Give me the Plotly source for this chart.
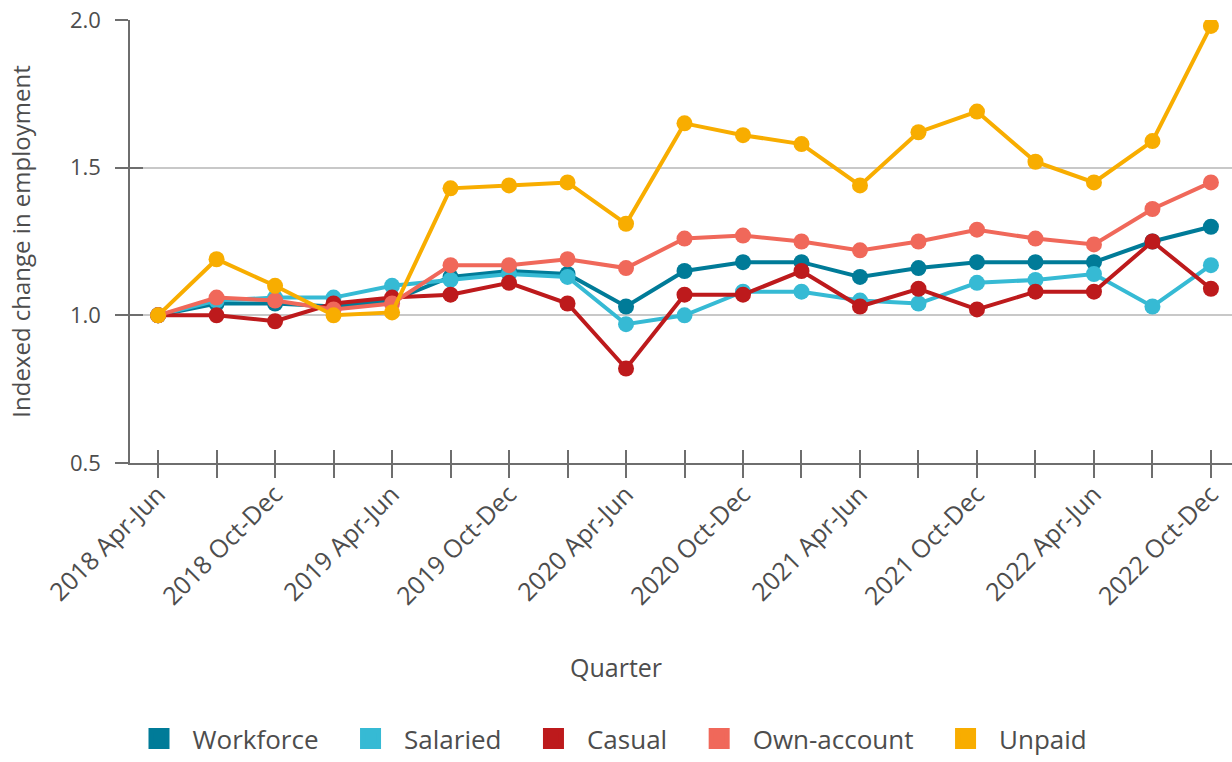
import plotly.graph_objects as go

quarters = [
    "2018 Apr-Jun", "2018 Jul-Sep", "2018 Oct-Dec",
    "2019 Jan-Mar", "2019 Apr-Jun", "2019 Jul-Sep", "2019 Oct-Dec",
    "2020 Jan-Mar", "2020 Apr-Jun", "2020 Jul-Sep", "2020 Oct-Dec",
    "2021 Jan-Mar", "2021 Apr-Jun", "2021 Jul-Sep", "2021 Oct-Dec",
    "2022 Jan-Mar", "2022 Apr-Jun", "2022 Jul-Sep", "2022 Oct-Dec",
]
tick_labels = [q if i % 2 == 0 else "" for i, q in enumerate(quarters)]

workforce = [1.00, 1.04, 1.04, 1.03, 1.05, 1.13, 1.15, 1.14, 1.03, 1.15, 1.18, 1.18, 1.13, 1.16, 1.18, 1.18, 1.18, 1.25, 1.30]
salaried = [1.00, 1.05, 1.06, 1.06, 1.10, 1.12, 1.14, 1.13, 0.97, 1.00, 1.08, 1.08, 1.05, 1.04, 1.11, 1.12, 1.14, 1.03, 1.17]
casual = [1.00, 1.00, 0.98, 1.04, 1.06, 1.07, 1.11, 1.04, 0.82, 1.07, 1.07, 1.15, 1.03, 1.09, 1.02, 1.08, 1.08, 1.25, 1.09]
own_account = [1.00, 1.06, 1.05, 1.02, 1.04, 1.17, 1.17, 1.19, 1.16, 1.26, 1.27, 1.25, 1.22, 1.25, 1.29, 1.26, 1.24, 1.36, 1.45]
unpaid = [1.00, 1.19, 1.10, 1.00, 1.01, 1.43, 1.44, 1.45, 1.31, 1.65, 1.61, 1.58, 1.44, 1.62, 1.69, 1.52, 1.45, 1.59, 1.98]

series = [
    ("Workforce", workforce, "#007B98"),
    ("Salaried", salaried, "#36BAD4"),
    ("Casual", casual, "#BD1A1C"),
    ("Own-account", own_account, "#F0685A"),
    ("Unpaid", unpaid, "#F8AD00"),
]

FONT = "Open Sans"
TXT = "#4d4d4d"
AX = "#6e6e6e"
NB = "\u00a0"

fig = go.Figure()
for name, vals, col in series:
    fig.add_trace(go.Scatter(
        x=quarters, y=vals, mode="lines+markers", name=name,
        line=dict(color=col, width=4), marker=dict(color=col, size=16),
        showlegend=False, hoverinfo="x+y+name",
    ))
for name, vals, col in series:
    fig.add_trace(go.Scatter(
        x=[None], y=[None], mode="markers", name=NB * 2 + name + NB * 4,
        marker=dict(color=col, size=16, symbol="square",
                    line=dict(color=col, width=5)),
        showlegend=True,
    ))
# invisible trace to hold overlay axes (inner half of crossing ticks)
fig.add_trace(go.Scatter(x=[None], y=[None], xaxis="x2", yaxis="y2",
                         showlegend=False, hoverinfo="skip"))

xr = [-0.48, 18.36]
yr = [0.5, 2.0]

fig.update_layout(
    width=1232, height=762,
    margin=dict(l=130, r=0, t=20, b=299, autoexpand=False),
    paper_bgcolor="white", plot_bgcolor="white",
    font=dict(family=FONT, color=TXT, size=20),
    xaxis=dict(
        type="category", range=xr, tickmode="array", automargin=False,
        tickvals=quarters, ticktext=tick_labels, tickangle=-45,
        ticks="outside", ticklen=13, tickcolor=AX, tickwidth=1.5,
        showline=True, linecolor=AX, linewidth=1.5,
        showgrid=False, zeroline=False, ticklabelstandoff=-8,
        ticklabeloverflow="allow",
        tickfont=dict(size=25, color=TXT, family=FONT),
    ),
    yaxis=dict(
        range=yr, tickmode="array", tickvals=[0.5, 1.0, 1.5, 2.0], automargin=False,
        ticktext=["0.5", "1.0", "1.5", "2.0"],
        ticks="outside", ticklen=13, tickcolor=AX, tickwidth=1.5,
        showline=True, linecolor=AX, linewidth=1.5, ticklabelstandoff=10,
        ticklabeloverflow="allow",
        showgrid=True, gridcolor="#c8c8c8", gridwidth=1.5, zeroline=False,
        tickfont=dict(size=22, color=TXT, family=FONT),
        title=dict(text="Indexed change in employment",
                   font=dict(size=24, color=TXT, family=FONT), standoff=33),
    ),
    xaxis2=dict(
        overlaying="x", range=xr, tickmode="array", automargin=False,
        tickvals=list(range(len(quarters))), showticklabels=False,
        ticks="inside", ticklen=13, tickcolor=AX, tickwidth=1.5,
        showline=False, showgrid=False, zeroline=False,
    ),
    yaxis2=dict(
        overlaying="y", range=yr, tickmode="array", tickvals=[0.5, 1.0, 1.5, 2.0],
        automargin=False,
        showticklabels=False, ticks="inside", ticklen=13, tickcolor=AX, tickwidth=1.5,
        showline=False, showgrid=False, zeroline=False,
    ),
    legend=dict(
        orientation="h", x=9 / 1102, xanchor="left",
        yref="container", y=0.0, yanchor="bottom",
        font=dict(size=26, color=TXT, family=FONT),
        itemsizing="trace", bgcolor="rgba(0,0,0,0)",
    ),
    annotations=[dict(
        text="Quarter", xref="paper", yref="paper",
        x=(616 - 130) / 1102, y=-(667 - 463) / 443,
        xanchor="center", yanchor="middle", showarrow=False,
        font=dict(size=25, color=TXT, family=FONT),
    )],
)

fig.write_html(
    "out.html",
    config={"displayModeBar": False},
    post_script="document.body.style.margin='0';document.body.style.overflow='hidden';",
)
